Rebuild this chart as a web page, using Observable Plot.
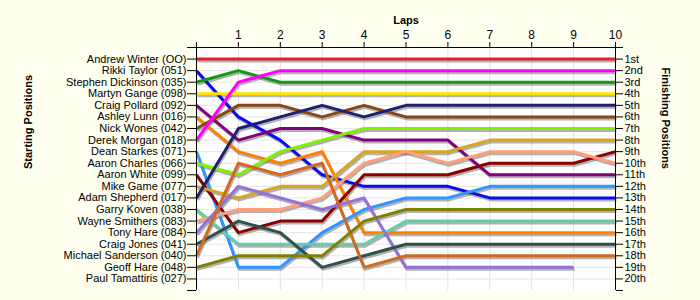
<!DOCTYPE html>
<html><head><meta charset="utf-8">
<script src="https://cdn.jsdelivr.net/npm/d3@7"></script>
<script src="https://cdn.jsdelivr.net/npm/@observablehq/plot@0.6"></script>
<style>
html,body{margin:0;padding:0;background:#fffff0;}
#chart svg{display:block;}
</style></head><body><div id="chart"></div>
<script>
const laps = [0,1,2,3,4,5,6,7,8,9,10];
const lapTickLabels = ["1","2","3","4","5","6","7","8","9","10"];
const drivers = [
  "Andrew Winter (OO)","Rikki Taylor (051)","Stephen Dickinson (035)","Martyn Gange (098)",
  "Craig Pollard (092)","Ashley Lunn (016)","Nick Wones (042)","Derek Morgan (018)",
  "Dean Starkes (071)","Aaron Charles (066)","Aaron White (099)","Mike Game (077)",
  "Adam Shepherd (017)","Garry Koven (038)","Wayne Smithers (083)","Tony Hare (084)",
  "Craig Jones (041)","Michael Sanderson (040)","Geoff Hare (048)","Paul Tamattiris (027)"
];
const finishLabels = ["1st","2nd","3rd","4th","5th","6th","7th","8th","9th","10th",
  "11th","12th","13th","14th","15th","16th","17th","18th","19th","20th"];

// position per lap (lap 0 = start)
const winter     = [1,1,1,1,1,1,1,1,1,1,1];
const taylor     = [2,6,8,11,12,12,12,13,13,13,13];
const dickinson  = [3,2,3,3,3,3,3,3,3,3,3];
const gange      = [4,4,4,4,4,4,4,4,4,4,4];
const pollard    = [5,8,7,7,8,8,8,11,11,11,11];
const lunn       = [6,9,10,9,16,16,16,16,16,16,16];
const wones      = [7,5,5,6,5,6,6,6,6,6,6];
const morgan     = [8,3,2,2,2,2,2,2,2,2,2];
const starkes    = [9,19,19,16,14,13,13,12,12,12,12];
const charles    = [10,11,9,8,7,7,7,7,7,7,7];
const white      = [11,16,15,15,11,11,11,10,10,10,9];
const game       = [12,13,12,12,9,9,9,8,8,8,8];
const shepherd   = [13,7,6,5,6,5,5,5,5,5,5];
const koven      = [14,17,17,17,17,15,15,15,15,15,15];
const smithers   = [15,14,14,13,10,9,10,9,9,9,10];
const tonyHare   = [16,12,13,14,13,19,19,19,19,19];
const jones      = [17,15,16,19,18,17,17,17,17,17,17];
const sanderson  = [18,10,11,10,19,18,18,18,18,18,18];
const geoffHare  = [19,18,18,18,15,14,14,14,14,14,14];
const tamattiris = [];

const series = [winter,taylor,dickinson,gange,pollard,lunn,wones,morgan,starkes,charles,
  white,game,shepherd,koven,smithers,tonyHare,jones,sanderson,geoffHare,tamattiris];

const lineColors = ["#e8202a","#0a0aee","#129a12","#ffe400","#800080","#ff8000","#8b4513","#ff00ff",
  "#2f95ff","#80f000","#8b0000","#daa520","#1f1f72","#66cdaa","#ffa07a","#9370db",
  "#2f4f4f","#d2691e","#808000","#aaaaaa"];

const rows = [];
drivers.forEach((name, i) => series[i].forEach((pos, k) => rows.push({driver: name, lap: laps[k], pos})));

const font = "'Liberation Sans', Arial, sans-serif";

const chart = Plot.plot({
  width: 700, height: 300,
  marginLeft: 196, marginRight: 85, marginTop: 47, marginBottom: 10,
  style: {background: "#fffff0", fontFamily: font, fontSize: "11px", color: "#000"},
  x: {domain: [0, 10], axis: null},
  y: {domain: [0, 21], reverse: true, axis: null},
  color: {domain: drivers, range: lineColors},
  marks: [
    Plot.frame({fill: "white", stroke: null}),
    Plot.gridX(d3.range(1, 10), {stroke: "#e2e2e2", strokeOpacity: 1}),
    Plot.gridY(d3.range(1, 21), {stroke: "#e6e6e6", strokeOpacity: 1}),
    Plot.line(rows, {x: "lap", y: "pos", z: "driver", stroke: "#666", strokeOpacity: 0.5, strokeWidth: 3, dx: 1, dy: 2, strokeLinecap: "butt"}),
    Plot.line(rows, {x: "lap", y: "pos", z: "driver", stroke: "driver", strokeWidth: 3, strokeLinecap: "butt"}),
    Plot.ruleX([0, 10], {stroke: "black"}),
    Plot.ruleY([0], {stroke: "black"}),
    Plot.axisX(d3.range(0, 11), {anchor: "top", tickFormat: d => d === 0 ? "" : lapTickLabels[d - 1], tickSize: 6, tickPadding: 3, label: null, fontSize: 12}),
    Plot.axisY(d3.range(0, 22), {anchor: "left", tickFormat: d => drivers[d - 1] ?? "", tickSize: 9, tickPadding: 1, label: null}),
    Plot.axisY(d3.range(0, 22), {anchor: "right", tickFormat: d => finishLabels[d - 1] ?? "", tickSize: 7, tickPadding: 2, label: null}),
    Plot.text(["Laps"], {text: d => d, frameAnchor: "top", dy: -31, fontWeight: "bold", fontSize: 11}),
    Plot.text(["Starting Positions"], {text: d => d, frameAnchor: "left", dx: -168, rotate: -90, fontWeight: "bold", fontSize: 11}),
    Plot.text(["Finishing Positions"], {text: d => d, frameAnchor: "right", dx: 50, rotate: 90, fontWeight: "bold", fontSize: 11})
  ]
});
document.getElementById("chart").append(chart);
</script>
</body></html>
